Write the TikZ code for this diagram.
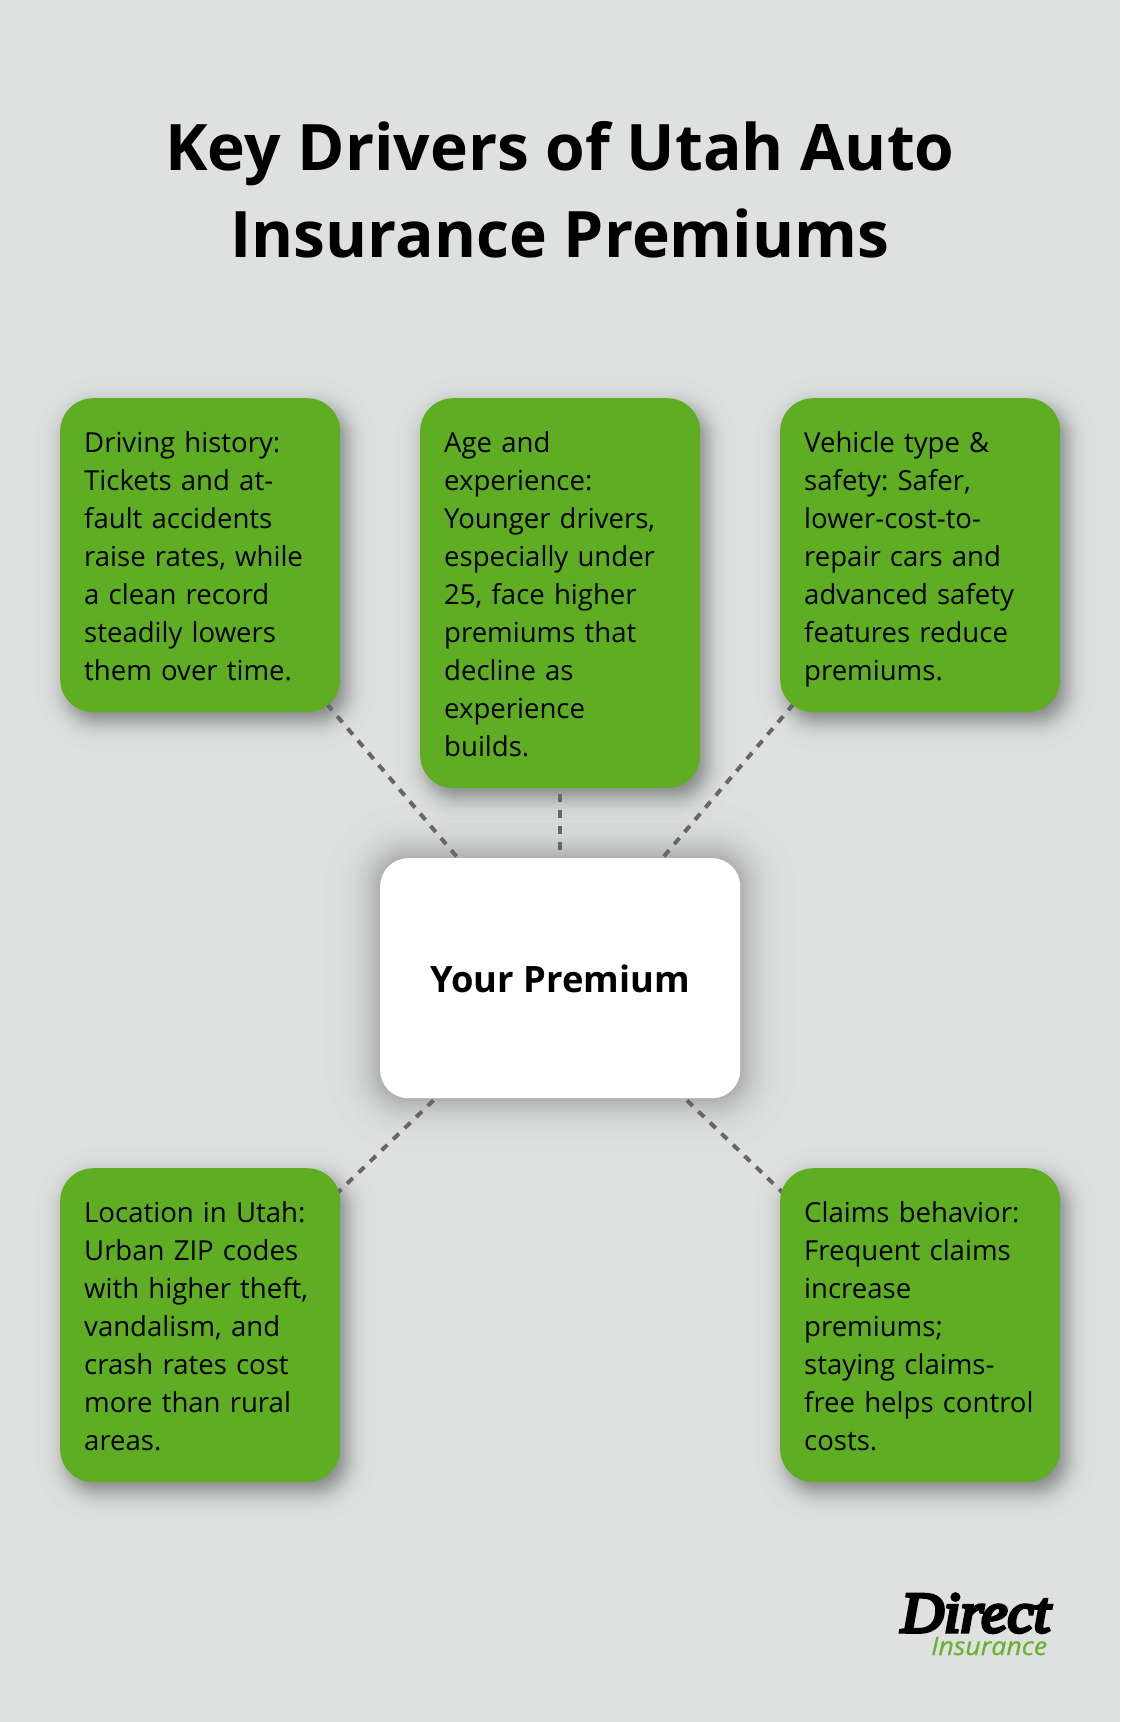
\documentclass[tikz,border=0pt]{standalone}
\usepackage{fontspec}
\setmainfont{Open Sans}
\frenchspacing
\newfontfamily\logoserif[FakeBold=6]{Liberation Serif}
\newfontfamily\logosans[FakeBold=0.6]{Open Sans}
\usetikzlibrary{calc}
\definecolor{pagebg}{RGB}{223,225,224}
\definecolor{boxgreen}{RGB}{95,173,35}
\definecolor{linkgray}{RGB}{102,102,102}
\definecolor{logogreen}{RGB}{105,178,50}
\pgfdeclarelayer{backdrop}
\pgfdeclarelayer{shadowlayer}
\pgfdeclarelayer{linklayer}
\pgfsetlayers{backdrop,shadowlayer,linklayer,main}
\newcommand{\cardstrut}{\rule[-8pt]{0pt}{38pt}}
\tikzset{
  x=1pt,y=1pt,
  card/.style={anchor=north west,rounded corners=33pt,inner sep=0pt,fill=boxgreen,
    minimum width=280pt,text width=232pt,align=left,
    font=\fontsize{27.55}{38}\selectfont,
    execute at begin node=\cardstrut,execute at end node=\cardstrut},
  tall7/.style={minimum height=314pt},
  tall9/.style={minimum height=390pt},
  hub/.style={anchor=north west,rounded corners=28pt,inner sep=0pt,fill=white,
    minimum width=360pt,minimum height=240pt,align=center,
    font=\fontsize{36.3}{46}\selectfont\bfseries},
  link/.style={draw=linkgray,line width=4pt,dash pattern=on 8pt off 8pt},
  titletext/.style={align=center,font=\fontsize{64.1}{87}\selectfont\bfseries},
}
% name, corner radius, x offset, y offset, spread, layers, opacity per layer
\newcommand{\softshadow}[7]{%
  \foreach \k in {1,...,#6}{%
    \pgfmathsetmacro{\p}{(\k-0.5)/#6}
    \pgfmathsetmacro{\e}{-#5*0.6*ln(\p/(1-\p))}
    \pgfmathsetmacro{\r}{max(#2+\e,1)}
    \fill[black,opacity=#7,rounded corners=\r pt]
      ($(#1.south west)+(#3-\e,#4-\e)$) rectangle ($(#1.north east)+(#3+\e,#4+\e)$);
  }%
}
\begin{document}
\begin{tikzpicture}
\begin{pgfonlayer}{backdrop}
\fill[pagebg] (0,0) rectangle (1120,-1722);
\end{pgfonlayer}
\useasboundingbox (0,0) rectangle (1120,-1722);
\node[titletext] (title) at (560,-190) {Key Drivers of Utah Auto\\Insurance Premiums};
\node[card,tall7] (history) at (60,-398) {Driving history:\\Tickets and at-\\fault accidents\\raise rates, while\\a clean record\\steadily lowers\\them over time.};
\node[card,tall9] (age) at (420,-398) {Age and\\experience:\\Younger drivers,\\especially under\\25, face higher\\premiums that\\decline as\\experience\\builds.};
\node[card,tall7] (vehicle) at (780,-398) {Vehicle type \&\\safety: Safer,\\lower-cost-to-\\repair cars and\\advanced safety\\features reduce\\premiums.};
\node[hub] (premium) at (380,-858) {\rule[-12pt]{0pt}{52pt}Your Premium};
\node[card,tall7] (location) at (60,-1168) {Location in Utah:\\Urban ZIP codes\\with higher theft,\\vandalism, and\\crash rates cost\\more than rural\\areas.};
\node[card,tall7] (claims) at (780,-1168) {Claims behavior:\\Frequent claims\\increase\\premiums;\\staying claims-\\free helps control\\costs.};
\node[anchor=base west,inner sep=0pt] (logotop) at (901,-1632) {\resizebox{149pt}{38pt}{\logoserif\itshape Direct}};
\node[anchor=base west,inner sep=0pt,text=logogreen] (logobottom) at (931,-1655) {\resizebox{116pt}{18pt}{\logosans\itshape Insurance}};
\begin{pgfonlayer}{shadowlayer}
  \softshadow{history}{33}{6}{-9}{11}{48}{0.0095}
  \softshadow{age}{33}{6}{-9}{11}{48}{0.0095}
  \softshadow{vehicle}{33}{6}{-9}{11}{48}{0.0095}
  \softshadow{location}{33}{6}{-9}{11}{48}{0.0095}
  \softshadow{claims}{33}{6}{-9}{11}{48}{0.0095}
  \softshadow{premium}{28}{0}{0}{20}{48}{0.0065}
\end{pgfonlayer}
\begin{pgfonlayer}{linklayer}
  \draw[link] (premium.center) -- (history.center);
  \draw[link] (premium.center) -- (age.center);
  \draw[link] (premium.center) -- (vehicle.center);
  \draw[link] (premium.center) -- (location.center);
  \draw[link] (premium.center) -- (claims.center);
\end{pgfonlayer}
\end{tikzpicture}
\end{document}
